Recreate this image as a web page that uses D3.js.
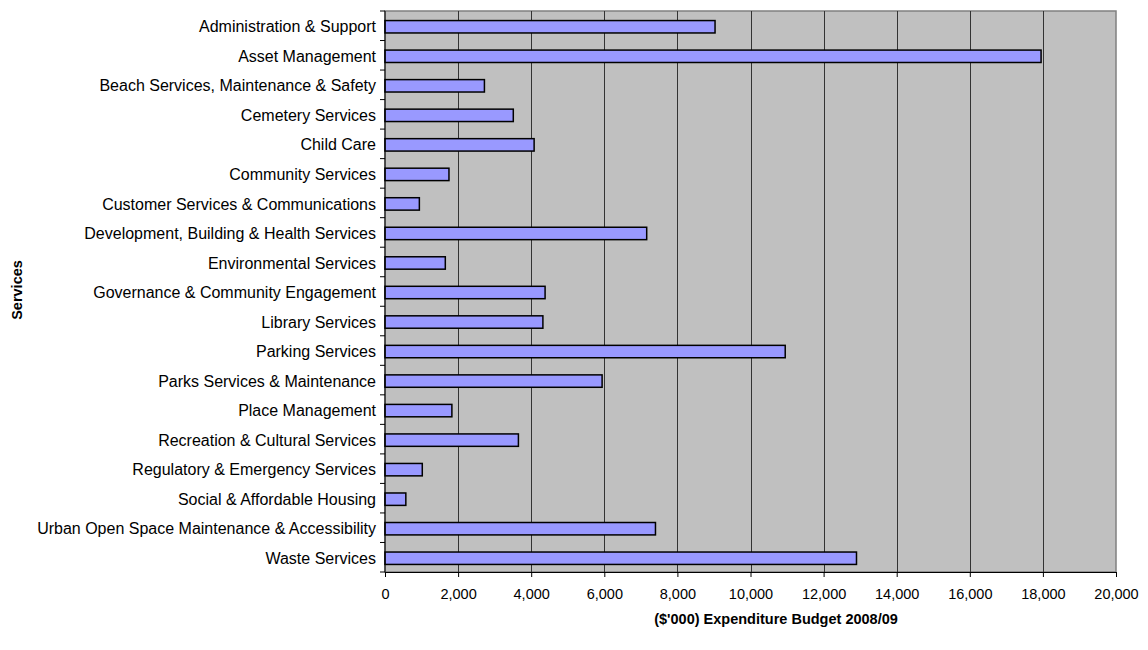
<!DOCTYPE html>
<html><head><meta charset="utf-8">
<script src="https://cdn.jsdelivr.net/npm/d3@7/dist/d3.min.js"></script>
<style>body{margin:0;background:#fff;} svg{display:block;font-family:"Liberation Sans",Arial,sans-serif;}</style>
</head><body><svg id="c" width="1148" height="650"></svg>
<script>
const categories = ["Administration & Support","Asset Management","Beach Services, Maintenance & Safety","Cemetery Services","Child Care","Community Services","Customer Services & Communications","Development, Building & Health Services","Environmental Services","Governance & Community Engagement","Library Services","Parking Services","Parks Services & Maintenance","Place Management","Recreation & Cultural Services","Regulatory & Emergency Services","Social & Affordable Housing","Urban Open Space Maintenance & Accessibility","Waste Services"];
const values = [9030,17950,2720,3510,4080,1750,940,7160,1650,4380,4320,10950,5940,1830,3650,1020,570,7400,12900];
const xTicks = [0,2000,4000,6000,8000,10000,12000,14000,16000,18000,20000];
const xTitle = "($'000) Expenditure Budget 2008/09";
const yTitle = "Services";

const svg = d3.select("#c");
const L=385, R=1116, T=11, B=572;
const x = d3.scaleLinear().domain([0,20000]).range([L,R]);
const y = d3.scaleBand().domain(categories).range([T,B]).paddingInner(0.58).paddingOuter(0.29);
const yb = d3.scaleBand().domain(categories).range([T,B]);

svg.append("rect").attr("x",L).attr("y",T).attr("width",R-L).attr("height",B-T).attr("fill","#c0c0c0").attr("stroke","#808080").attr("stroke-width",1.5);
svg.append("g").selectAll("line").data(xTicks.slice(1,-1)).join("line")
  .attr("x1",d=>Math.round(x(d))+0.5).attr("x2",d=>Math.round(x(d))+0.5).attr("y1",T).attr("y2",B)
  .attr("stroke","#333").attr("stroke-width",1);

svg.append("g").selectAll("rect").data(values).join("rect")
  .attr("x",x(0)).attr("y",(d,i)=>y(categories[i])+1).attr("width",d=>x(d)-x(0)).attr("height",y.bandwidth())
  .attr("fill","#9999ff").attr("stroke","#000").attr("stroke-width",1.5);

// y axis
const ya = svg.append("g");
ya.append("line").attr("x1",L).attr("x2",L).attr("y1",T).attr("y2",B).attr("stroke","#000");
ya.selectAll("line.t").data(categories.concat(["_end"])).join("line").attr("class","t")
  .attr("x1",L-5).attr("x2",L).attr("y1",(d,i)=>T+i*yb.step()).attr("y2",(d,i)=>T+i*yb.step()).attr("stroke","#000");
ya.selectAll("text").data(categories).join("text")
  .attr("x",L-9).attr("y",d=>yb(d)+yb.bandwidth()/2+1).attr("dy","0.35em")
  .attr("text-anchor","end").attr("font-size",16).attr("fill","#000").text(d=>d);

// x axis
const xa = svg.append("g").attr("transform",`translate(0,${B})`)
  .call(d3.axisBottom(x).tickValues(xTicks).tickFormat(d3.format(",")).tickSize(5).tickSizeOuter(0));
xa.select(".domain").attr("stroke","#000");
xa.selectAll("text").attr("font-size",14.5).attr("font-family","Liberation Sans, Arial, sans-serif").attr("dy","1.3em").attr("fill","#000");

svg.append("text").attr("x",776).attr("y",624).attr("text-anchor","middle").attr("font-size",14.5).attr("font-weight","bold").text(xTitle);
svg.append("text").attr("transform","translate(22,290) rotate(-90)").attr("text-anchor","middle").attr("font-size",14.5).attr("font-weight","bold").text(yTitle);
</script></body></html>
